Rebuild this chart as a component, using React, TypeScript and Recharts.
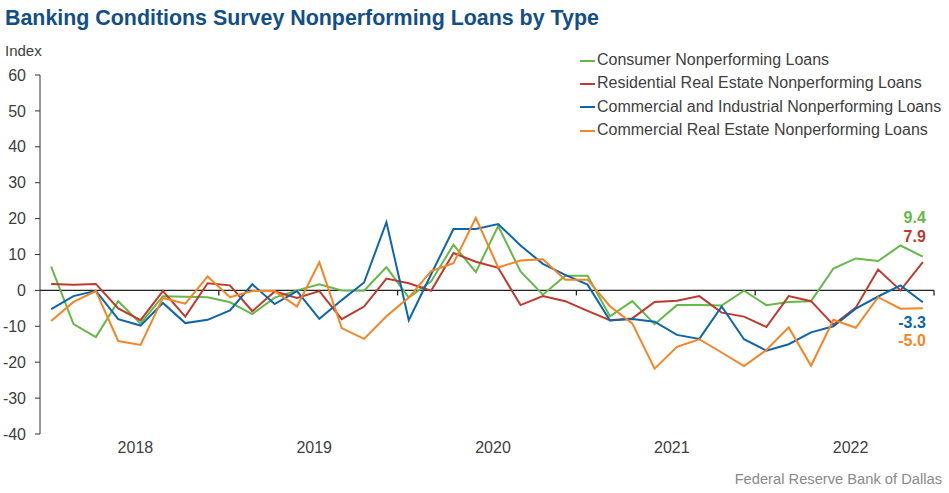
import { LineChart, Line, XAxis, YAxis, ReferenceLine, Legend, LabelList } from "recharts";

// 8 survey periods per year, 2018 through 2022
const yearLabels = ["2018", "2019", "2020", "2021", "2022"];
const PER_YEAR = 8;
const yTicks = [60, 50, 40, 30, 20, 10, 0, -10, -20, -30, -40];

const consumer = [
  6.6, -9.4, -13, -3, -9.2, -1.6, -1.8, -1.9, -3.3, -6.6, -2, 0, 1.7, 0, -0.1, 6.5, -2, 2.5, 12.7, 5.1,
  17.9, 5.3, -1.2, 4.1, 4.1, -7.2, -3, -9.4, -4.1, -4.1, -4.2, -0.1, -4.1, -3.2, -3, 6.1, 8.9, 8.2, 12.5, 9.4,
];
const residential = [
  1.8, 1.6, 1.8, -5, -8.3, -0.2, -7.3, 2, 1.4, -5.8, -0.3, -2.1, -0.2, -8, -4.5, 3.3, 2, -0.1, 10.4, 8,
  6.3, -4.1, -1.6, -3, -5.7, -8.3, -7.8, -3.2, -2.9, -1.6, -6.2, -7.3, -10.2, -1.6, -3, -9.6, -4.8, 5.8, 0, 7.9,
];
const commercialIndustrial = [
  -5.2, -1.6, -0.1, -8, -9.8, -3.5, -9.1, -8.2, -5.6, 1.7, -3.8, -0.2, -7.9, -2.7, 2.2, 19, -8.3, 4.5, 17.1, 17.1,
  18.5, 12.5, 7.4, 4.3, 1.6, -8.4, -8, -8.7, -12.4, -13.5, -4.5, -13.6, -16.8, -15, -11.7, -10, -5.1, -1.7, 1.4, -3.3,
];
const commercialRE = [
  -8.5, -3.2, -0.2, -14.1, -15.2, -2.1, -3.7, 3.9, -1.9, -0.2, -0.2, -4.5, 7.8, -10.5, -13.5, -7.2, -2, 5.4, 7.6, 20.2,
  6.4, 8.3, 8.7, 3, 3, -4.4, -9.2, -21.8, -15.7, -13.6, -17.3, -21.1, -16.6, -10.3, -21, -8.2, -10.4, -1.9, -5.1, -5.0,
];

const SERIES = [
  { key: "consumer", name: "Consumer Nonperforming Loans", color: "#64b947", dy: -34 },
  { key: "residential", name: "Residential Real Estate Nonperforming Loans", color: "#c0392f", dy: -20 },
  { key: "ci", name: "Commercial and Industrial Nonperforming Loans", color: "#0b66ae", dy: 26 },
  { key: "cre", name: "Commercial Real Estate Nonperforming Loans", color: "#f68424", dy: 38 },
];

const data = consumer.map((v, i) => ({
  idx: i,
  consumer: v,
  residential: residential[i],
  ci: commercialIndustrial[i],
  cre: commercialRE[i],
}));

const LAST = data.length - 1;
const yearTicks = yearLabels.map((_, k) => k * PER_YEAR + (PER_YEAR - 1) / 2);
const yearEdges = yearLabels.map((_, k) => (k + 1) * PER_YEAR - 0.5);

const FONT = "'Liberation Sans', Arial, Helvetica, sans-serif";

const YearTick = (props: any) => {
  const { x, y, payload } = props;
  const k = Math.round((payload.value - (PER_YEAR - 1) / 2) / PER_YEAR);
  return (
    <text x={x + 6} y={y} dy="0.71em" textAnchor="middle" fill="#404040" fontSize={16} fontFamily={FONT}>
      {yearLabels[k]}
    </text>
  );
};

const endLabel = (color: string, dy: number) => (props: any) => {
  const { x, y, index, value } = props;
  if (index !== LAST) return null;
  return (
    <text x={x + 3} y={y + dy} textAnchor="end" fill={color} fontSize={16} fontWeight="bold" fontFamily={FONT}>
      {Number(value).toFixed(1)}
    </text>
  );
};

// keep the legend in series order (recharts sorts by name otherwise)
const LegendBox = () => (
  <div style={{ fontSize: 16, color: "#404040", fontFamily: FONT }}>
    {SERIES.map((s) => (
      <div key={s.key} style={{ display: "flex", alignItems: "center", height: 23.3, lineHeight: "23px" }}>
        <span style={{ width: 15, height: 2, background: s.color, marginTop: 2 }} />
        <span style={{ marginLeft: 2, whiteSpace: "nowrap" }}>{s.name}</span>
      </div>
    ))}
  </div>
);

export default function App() {
  return (
    <div style={{ position: "absolute", left: 0, top: 0, width: 949, height: 493, background: "#fff", fontFamily: FONT }}>
      <LineChart width={949} height={493} data={data} margin={{ top: 75, right: 15, left: 0, bottom: 34 }}>
        <XAxis
          type="number"
          dataKey="idx"
          domain={[-0.5, LAST + 0.5]}
          ticks={yearTicks}
          interval={0}
          axisLine={false}
          tickLine={false}
          tickSize={0}
          tickMargin={8}
          height={25}
          tick={<YearTick />}
        />
        <YAxis
          domain={[-40, 60]}
          ticks={yTicks}
          interval={0}
          width={40}
          tickSize={5}
          tickMargin={9}
          axisLine={{ stroke: "#333" }}
          tickLine={{ stroke: "#333" }}
          tick={{ fill: "#404040", fontSize: 16, fontFamily: FONT }}
        />
        <ReferenceLine y={0} stroke="#222" strokeWidth={1.3} />
        {yearEdges.map((e) => (
          <ReferenceLine
            key={e}
            segment={[
              { x: e, y: 0 },
              { x: e, y: -1.4 },
            ]}
            stroke="#222"
            strokeWidth={1.3}
          />
        ))}
        <Legend
          layout="horizontal"
          verticalAlign="middle"
          align="center"
          content={<LegendBox />}
          wrapperStyle={{ top: 48, left: 580, width: 365 }}
        />
        {SERIES.map((s) => (
          <Line
            key={s.key}
            type="linear"
            dataKey={s.key}
            name={s.name}
            stroke={s.color}
            strokeWidth={2}
            dot={false}
            isAnimationActive={false}
          >
            <LabelList dataKey={s.key} content={endLabel(s.color, s.dy)} />
          </Line>
        ))}
      </LineChart>
      <div
        style={{
          position: "absolute",
          left: 5,
          top: 6,
          fontSize: 21.4,
          lineHeight: "24px",
          fontWeight: "bold",
          color: "#124e87",
          whiteSpace: "nowrap",
        }}
      >
        Banking Conditions Survey Nonperforming Loans by Type
      </div>
      <div style={{ position: "absolute", left: 5, top: 42, fontSize: 15, lineHeight: "18px", color: "#404040" }}>
        Index
      </div>
      <div
        style={{
          position: "absolute",
          right: 7,
          top: 470,
          fontSize: 14.7,
          lineHeight: "18px",
          color: "#8a8a8a",
          whiteSpace: "nowrap",
        }}
      >
        Federal Reserve Bank of Dallas
      </div>
    </div>
  );
}
